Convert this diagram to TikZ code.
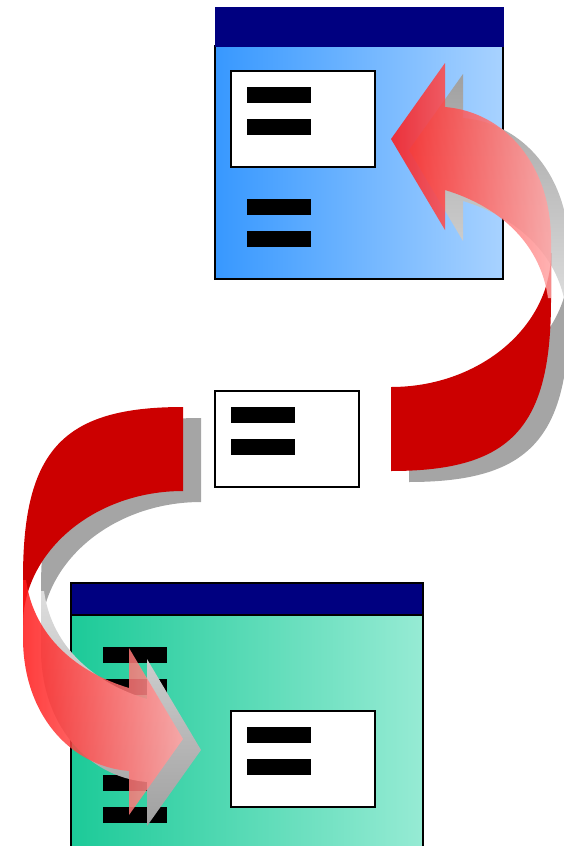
\documentclass[tikz,border=0pt]{standalone}
\begin{document}
\begin{tikzpicture}[x=1pt,y=-1pt,
  winbody/.style={draw=black,line width=1.6pt,inner sep=0pt,outer sep=0pt,anchor=north west},
  titlebar/.style={fill={rgb,255:red,0;green,0;blue,128},draw={rgb,255:red,0;green,0;blue,128},inner sep=0pt,outer sep=0pt,anchor=north west},
  panel/.style={fill=white,draw=black,line width=1.3pt,inner sep=0pt,outer sep=0pt,anchor=north west,minimum width=144pt,minimum height=96pt},
  bar/.style={fill=black,inner sep=0pt,outer sep=0pt,anchor=north west,minimum width=64pt,minimum height=16pt},
  shadowfill/.style={fill={rgb,255:red,165;green,165;blue,165}},
  backband/.style={fill={rgb,255:red,204;green,0;blue,0}},
  frontband/.style={left color={rgb,255:red,255;green,25;blue,25},right color={rgb,255:red,255;green,165;blue,165},fill opacity=0.85}]
\useasboundingbox (0,0) rectangle (563,846);
\def\topred{(391,387) -- (391,471) .. controls (511,471) and (551,428) .. (551,300) -- (551,253) .. controls (551,327) and (479,387) .. cycle}
\def\toppink{(391,139) -- (445,63) -- (445,107) .. controls (505,112) and (551,165) .. (551,240) -- (551,298) -- (548,298) .. controls (540,240) and (495,205) .. (445,190) -- (445,230) -- cycle}
\def\botred{(183,491) -- (183,407) .. controls (63,407) and (23,450) .. (23,578) -- (23,625) .. controls (23,551) and (95,491) .. cycle}
\def\botpink{(183,739) -- (129,815) -- (129,771) .. controls (69,766) and (23,713) .. (23,638) -- (23,580) -- (26,580) .. controls (34,638) and (79,673) .. (129,688) -- (129,648) -- cycle}
% top window
\node[winbody,minimum width=288pt,minimum height=233pt,left color={rgb,255:red,55;green,152;blue,255},right color={rgb,255:red,168;green,210;blue,255}] (topbody) at (215,46) {};
\node[titlebar,minimum width=288pt,minimum height=39pt] (toptitle) at (215,7) {};
\node[panel] (toppanel) at (231,71) {};
\node[bar] (tb1) at (247,87) {};
\node[bar] (tb2) at (247,119) {};
\node[bar] (tb3) at (247,199) {};
\node[bar] (tb4) at (247,231) {};
% middle box
\node[panel] (midpanel) at (215,391) {};
\node[bar] (mb1) at (231,407) {};
\node[bar] (mb2) at (231,439) {};
% bottom window
\node[winbody,minimum width=352pt,minimum height=245pt,left color={rgb,255:red,28;green,202;blue,152},right color={rgb,255:red,150;green,235;blue,212}] (botbody) at (71,615) {};
\node[titlebar,draw=black,line width=1.2pt,minimum width=352pt,minimum height=32pt] (bottitle) at (71,583) {};
\node[panel] (botpanel) at (231,711) {};
\node[bar] (bb1) at (247,727) {};
\node[bar] (bb2) at (247,759) {};
\node[bar] (bl1) at (103,647) {};
\node[bar] (bl2) at (103,679) {};
\node[bar] (bl3) at (103,775) {};
\node[bar] (bl4) at (103,807) {};
% shadows
\begin{scope}[shift={(18,11)}]
\fill[shadowfill] \topred;
\fill[shadowfill] \botred;
\shade[top color={rgb,255:red,160;green,160;blue,160},bottom color={rgb,255:red,222;green,222;blue,222}] \toppink;
\shade[top color={rgb,255:red,222;green,222;blue,222},bottom color={rgb,255:red,160;green,160;blue,160}] \botpink;
\end{scope}
% back bands
\fill[backband] \topred;
\fill[backband] \botred;
% front bands with heads
\shade[frontband] \toppink;
\shade[frontband] \botpink;
\end{tikzpicture}
\end{document}
